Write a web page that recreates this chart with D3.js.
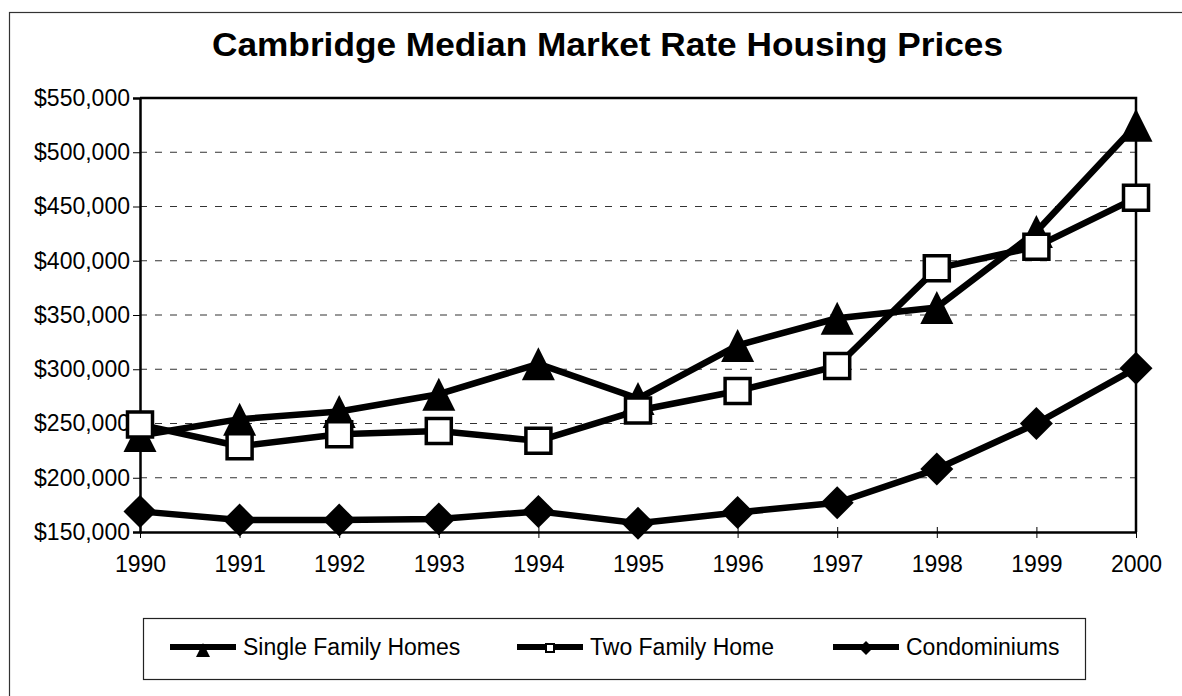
<!DOCTYPE html>
<html lang="en">
<head>
    <meta charset="UTF-8">
    <title>Cambridge Median Market Rate Housing Prices</title>
    <script src="https://d3js.org/d3.v7.min.js"></script>
    <style>
        body { margin: 0; background: #fff; }
        svg { display: block; font-family: "Liberation Sans", Arial, sans-serif; }
    </style>
</head>
<body>
<svg id="chart"></svg>
<script>
    const width = 1182;
    const height = 696;

    // values
    const years = [1990, 1991, 1992, 1993, 1994, 1995, 1996, 1997, 1998, 1999, 2000];
    const singleFamily = [239000, 254000, 261000, 277000, 305000, 273000, 322000, 347000, 357000, 427000, 525000];
    const twoFamily = [249000, 229000, 240000, 243000, 234000, 262000, 280000, 303000, 393000, 413000, 458000];
    const condos = [169000, 161000, 161000, 162000, 169000, 158000, 168000, 177000, 208000, 250000, 301000];
    const seriesNames = ["Single Family Homes", "Two Family Home", "Condominiums"];
    const yTicks = [150000, 200000, 250000, 300000, 350000, 400000, 450000, 500000, 550000];

    const title = "Cambridge Median Market Rate Housing Prices";

    const margin = {top: 98, right: 46, bottom: 164, left: 140};

    const series = [
        {name: seriesNames[0], values: singleFamily, marker: "triangle"},
        {name: seriesNames[1], values: twoFamily, marker: "square"},
        {name: seriesNames[2], values: condos, marker: "diamond"}
    ];

    const x = d3.scaleLinear()
        .domain(d3.extent(years))
        .range([margin.left, width - margin.right]);

    const y = d3.scaleLinear()
        .domain([150000, 550000])
        .range([height - margin.bottom, margin.top]);

    const fmt = d => "$" + d3.format(",")(d);

    // marker shapes, big ones on the plot, small ones in the legend
    const shapes = {
        triangle: s => `M0,${-s}L${s},${s}L${-s},${s}Z`,
        diamond: s => `M0,${-s}L${s},0L0,${s}L${-s},0Z`,
        square: s => `M${-s},${-s}H${s}V${s}H${-s}Z`
    };

    const svg = d3.select("#chart")
        .attr("width", width)
        .attr("height", height)
        .attr("viewBox", [0, 0, width, height]);

    // outer chart frame
    svg.append("rect")
        .attr("x", 9.5).attr("y", 12.5)
        .attr("width", 1196).attr("height", 700)
        .attr("fill", "none")
        .attr("stroke", "#333")
        .attr("stroke-width", 1.2);

    svg.append("text")
        .attr("x", 212)
        .attr("y", 56)
        .attr("font-size", 34)
        .attr("font-weight", "bold")
        .attr("textLength", 791)
        .attr("lengthAdjust", "spacingAndGlyphs")
        .text(title);

    // dashed grid lines
    svg.append("g")
        .selectAll("line")
        .data(yTicks.slice(1, -1))
        .join("line")
        .attr("x1", x.range()[0]).attr("x2", x.range()[1])
        .attr("y1", d => y(d)).attr("y2", d => y(d))
        .attr("stroke", "#333")
        .attr("stroke-width", 1)
        .attr("stroke-dasharray", "7,8");

    // y axis
    svg.append("g")
        .attr("transform", `translate(${margin.left},0)`)
        .call(d3.axisLeft(y).tickValues(yTicks).tickFormat(fmt).tickSize(7).tickPadding(3))
        .call(g => g.select(".domain").attr("stroke-width", 2.5))
        .call(g => g.selectAll(".tick line").attr("stroke-width", 1))
        .call(g => g.selectAll("text").attr("font-size", 23).attr("fill", "#000")
            .attr("font-family", "'Liberation Sans', Arial, sans-serif"));

    // x axis, ticks cross the axis line
    svg.append("g")
        .attr("transform", `translate(0,${height - margin.bottom})`)
        .call(d3.axisBottom(x).tickValues(years).tickFormat(d3.format("d")).tickSize(6).tickPadding(18).tickSizeOuter(0))
        .call(g => g.select(".domain").attr("stroke-width", 2.5))
        .call(g => g.selectAll(".tick line").attr("y1", -5).attr("stroke-width", 1))
        .call(g => g.selectAll("text").attr("font-size", 23).attr("fill", "#000")
            .attr("font-family", "'Liberation Sans', Arial, sans-serif"));

    // top and right edge of plot box
    svg.append("path")
        .attr("d", `M${x.range()[0]},${y(550000)}H${x.range()[1]}V${y(150000)}`)
        .attr("fill", "none")
        .attr("stroke", "#000")
        .attr("stroke-width", 2.5);

    const line = d3.line()
        .x((d, i) => x(years[i]))
        .y(d => y(d));

    series.forEach(s => {
        const g = svg.append("g");
        g.append("path")
            .attr("d", line(s.values))
            .attr("fill", "none")
            .attr("stroke", "#000")
            .attr("stroke-width", 6.5)
            .attr("stroke-linejoin", "round");

        g.selectAll("path.mark")
            .data(s.values)
            .join("path")
            .attr("class", "mark")
            .attr("transform", (d, i) => `translate(${x(years[i])},${y(d)})`)
            .attr("d", shapes[s.marker](s.marker == "square" ? 12.5 : 16.5))
            .attr("fill", s.marker == "square" ? "#fff" : "#000")
            .attr("stroke", "#000")
            .attr("stroke-width", s.marker == "square" ? 3.5 : 0);
    });

    // legend
    const legend = svg.append("g");
    legend.append("rect")
        .attr("x", 143.5).attr("y", 618.5)
        .attr("width", 942).attr("height", 61)
        .attr("fill", "#fff")
        .attr("stroke", "#222")
        .attr("stroke-width", 1.2);

    const legendX = [170, 517, 833];
    const legendY = 647;

    series.forEach((s, i) => {
        const item = legend.append("g").attr("transform", `translate(${legendX[i]},${legendY})`);
        item.append("line")
            .attr("x1", 0).attr("x2", 66)
            .attr("stroke", "#000")
            .attr("stroke-width", 6);
        item.append("path")
            .attr("transform", `translate(33,${s.marker == "triangle" ? 3 : 1})`)
            .attr("d", shapes[s.marker](s.marker == "square" ? 4 : 7))
            .attr("fill", s.marker == "square" ? "#fff" : "#000")
            .attr("stroke", "#000")
            .attr("stroke-width", s.marker == "square" ? 2 : 0);
        item.append("text")
            .attr("x", 73)
            .attr("y", 8)
            .attr("font-size", 23)
            .text(s.name);
    });
</script>
</body>
</html>
